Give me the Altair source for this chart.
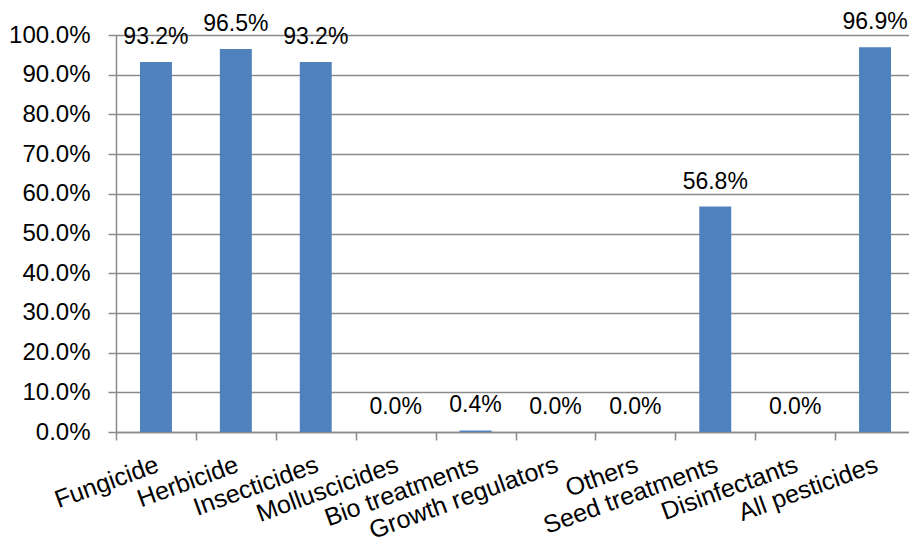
import altair as alt
import pandas as pd

categories = ["Fungicide", "Herbicide", "Insecticides", "Molluscicides", "Bio treatments",
              "Growth regulators", "Others", "Seed treatments", "Disinfectants", "All pesticides"]
values = [0.932, 0.965, 0.932, 0.0, 0.004, 0.0, 0.0, 0.568, 0.0, 0.969]
y_ticks = [0.0, 0.1, 0.2, 0.3, 0.4, 0.5, 0.6, 0.7, 0.8, 0.9, 1.0]

df = pd.DataFrame({"category": categories, "value": values})

FONT = "Liberation Sans"
GRID = "#8a8a8a"

x = alt.X("category:N", sort=categories, title=None,
          scale=alt.Scale(paddingInner=0, paddingOuter=0),
          axis=alt.Axis(labelAngle=-20, labelAlign="right", labelBaseline="top",
                        labelFontSize=25, labelFont=FONT, labelColor="black",
                        labelPadding=12, labelOffset=-3, tickBand="extent", tickSize=8,
                        tickColor=GRID, domainColor=GRID, tickWidth=1.5,
                        domainWidth=1.5, grid=False, labelOverlap=False, labelLimit=0))
y = alt.Y("value:Q", title=None,
          scale=alt.Scale(domain=[0, 1], nice=False),
          axis=alt.Axis(values=y_ticks, format=".1%", labelOverlap=False, tickCount=11,
                        labelFontSize=24, labelFont=FONT, labelColor="black",
                        labelPadding=18, tickSize=8, tickColor=GRID,
                        domainColor=GRID, gridColor=GRID, gridWidth=1.5,
                        tickWidth=1.5, domainWidth=1.5, gridOpacity=1))

base = alt.Chart(df).encode(x=x, y=y)
bars = base.mark_bar(color="#4F81BD", width=alt.RelativeBandSize(0.4))
labels = base.mark_text(font=FONT, fontSize=23, color="black", dy=-18,
                        baseline="alphabetic").encode(
    text=alt.Text("value:Q", format=".1%"))

chart = (bars + labels).properties(
    width=799, height=397,
    autosize=alt.AutoSizeParams(type="none"),
    padding={"left": 108, "top": 27, "right": -6, "bottom": 115},
).configure_view(stroke=None).configure(background="white")

chart.save("out.html", embed_options={"renderer": "svg", "actions": False})
